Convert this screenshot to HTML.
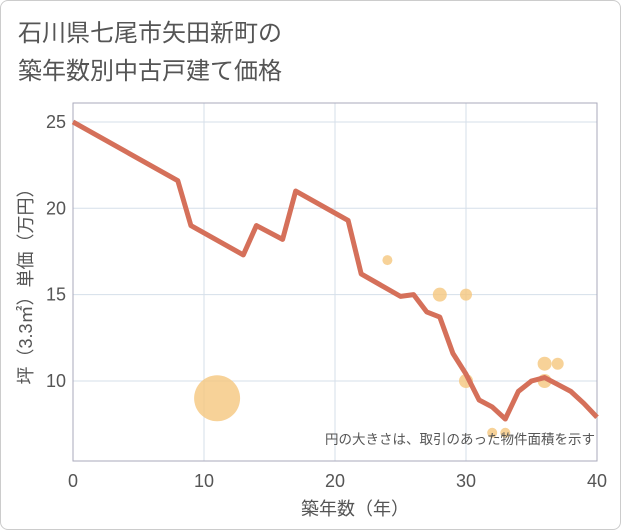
<!DOCTYPE html>
<html><head><meta charset="utf-8"><style>
body{margin:0;background:#fff;}
#wrap{width:619px;height:528px;border:1px solid #ccc;border-radius:8px;position:relative;overflow:hidden;font-family:"Liberation Sans","Noto Sans CJK JP",sans-serif;}
</style></head><body>
<div id="wrap">
<svg id="c" width="621" height="530" style="position:absolute;left:-1px;top:-1px">
<text x="18" y="41" font-size="24" fill="#555">石川県七尾市矢田新町の</text>
<text x="18" y="79" font-size="24" fill="#555">築年数別中古戸建て価格</text>
<g id="grid"></g><g id="marks"></g>
</svg></div>
<script>
const xTicks=[0,10,20,30,40];
const yTicks=[10,15,20,25];
const lineX=[0,8,9,13,14,16,17,21,22,25,26,27,28,29,30,31,32,33,34,35,36,37,38,39,40];
const lineY=[25,21.6,19,17.3,19,18.2,21,19.3,16.2,14.9,15,14,13.7,11.6,10.4,8.9,8.5,7.8,9.4,10,10.2,9.8,9.4,8.7,7.9];
const bubX=[11,24,28,30,30,32,33,36,36,37];
const bubY=[9,17,15,15,10,7,7,11,10,11];
const bubR=[23,5,7,6,7,5,5,7,7,6];
const L=73,R=597,T=103,B=461;
const xs=v=>L+(R-L)*v/40;
const ys=v=>381-(v-10)*17.27;
const NS="http://www.w3.org/2000/svg";
function mk(t,a,p){const e=document.createElementNS(NS,t);for(const k in a)e.setAttribute(k,a[k]);p.appendChild(e);return e;}
const g=document.getElementById('grid'),m=document.getElementById('marks');
xTicks.forEach(v=>{const l=mk('line',{x1:xs(v),x2:xs(v),y1:T,y2:B,stroke:'#d5dfea'},g);

const t=mk('text',{x:xs(v),y:487,'font-size':18,fill:'#555','text-anchor':'middle'},g);t.textContent=v;
});
yTicks.forEach(v=>{const l=mk('line',{x1:L,x2:R,y1:ys(v),y2:ys(v),stroke:'#d5dfea'},g);

const t=mk('text',{x:66,y:ys(v)+6,'font-size':18,fill:'#555','text-anchor':'end'},g);t.textContent=v;
});
const bx=mk('rect',{x:L,y:T,width:R-L,height:B-T,fill:'none',stroke:'#aab'},g);

bubX.forEach((v,i)=>{const c=mk('circle',{cx:xs(v),cy:ys(bubY[i]),r:bubR[i],fill:'#f5c77e',opacity:0.8},m);
});
const p=mk('polyline',{points:lineX.map((v,i)=>xs(v)+','+ys(lineY[i])).join(' '),fill:'none',stroke:'#d5705a','stroke-width':5,'stroke-linejoin':'round'},m);

const n=mk('text',{x:595,y:444,'font-size':13.5,fill:'#555','text-anchor':'end'},m);n.textContent='円の大きさは、取引のあった物件面積を示す';

const xt=mk('text',{x:355,y:515,'font-size':18,fill:'#555','text-anchor':'middle'},m);xt.textContent='築年数（年）';

const yt=mk('text',{x:0,y:0,'font-size':18,fill:'#555','text-anchor':'middle',transform:'translate(32,282) rotate(-90)'},m);yt.textContent='坪（3.3㎡）単価（万円）';

</script></body></html>
